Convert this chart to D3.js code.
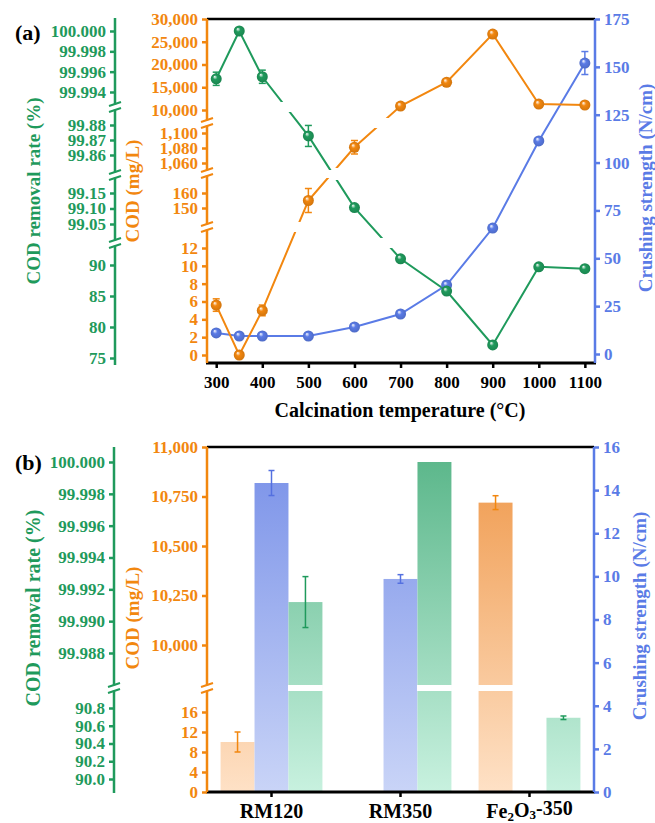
<!DOCTYPE html>
<html>
<head>
<meta charset="utf-8">
<title>COD removal and crushing strength</title>
<style>
    * { margin: 0; padding: 0; }
    body { background: #fff; }
    svg text { font-family: "Liberation Serif", "Times New Roman", "DejaVu Serif", serif; font-weight: bold; }
</style>
<script src="https://cdn.jsdelivr.net/npm/d3@7"></script>
</head>
<body>
<div id="root"></div>
<script>
// ---- panel (a) data ----
var temps = [300, 350, 400, 500, 600, 700, 800, 900, 1000, 1100];
var codA = [5.6, 0, 5.0, 155, 1081, 10870, 16100, 26700, 11300, 11100];
var codAErr = [0.7, 0, 0.6, 8, 9, 0, 0, 0, 0, 0];
var removalA = [99.9953, 100.000, 99.9955, 99.8727, 99.103, 91.0, 85.8, 77.1, 89.7, 89.4];
var removalAErr = [0.00065, 0, 0.00065, 0.007, 0, 0, 0, 0, 0, 0];
var strengthA = [11.0, 9.4, 9.4, 9.4, 14.1, 20.9, 36.0, 65.8, 111.3, 152.0];
var strengthAErr = [0, 0, 0, 0, 0, 0, 2, 0, 0, 6];
var tempTicks = [300, 400, 500, 600, 700, 800, 900, 1000, 1100];

// ---- panel (b) data ----
var samples = ["RM120", "RM350", "Fe2O3-350"];
var codB = [10, null, 10719];
var codBErr = [2, 0, 35];
var strengthB = [14.33, 9.88, null];
var strengthBErr = [0.58, 0.2, 0];
var removalB = [99.9912, 100.000, 90.69];
var removalBErr = [0.0016, 0, 0.02];

// ---- tick labels ----
var greenTicksA = [[99.994, 99.996, 99.998, 100.000], [99.86, 99.87, 99.88], [99.05, 99.10, 99.15], [75, 80, 85, 90]];
var orangeTicksA = [[10000, 15000, 20000, 25000, 30000], [1060, 1080, 1100], [150, 160], [0, 2, 4, 6, 8, 10, 12]];
var blueTicksA = [0, 25, 50, 75, 100, 125, 150, 175];
var greenTicksB = [[99.988, 99.990, 99.992, 99.994, 99.996, 99.998, 100.000], [90.0, 90.2, 90.4, 90.6, 90.8]];
var orangeTicksB = [[10000, 10250, 10500, 10750, 11000], [0, 4, 8, 12, 16]];
var blueTicksB = [0, 2, 4, 6, 8, 10, 12, 14, 16];

var GREEN = "#1f9a5c", ORANGE = "#f2870f", BLUE = "#5a7be6";
var FONT = '"Liberation Serif", "Times New Roman", "DejaVu Serif", serif';
var width = 655, height = 823;

var svg = d3.select("#root").append("svg").attr("width", width).attr("height", height);
var defs = svg.append("defs");

// markers look like little shiny balls
function ballGradient(id, c) {
    var g = defs.append("radialGradient").attr("id", id).attr("fx", "35%").attr("fy", "30%");
    g.append("stop").attr("offset", "0%").attr("stop-color", "#ffffff");
    g.append("stop").attr("offset", "40%").attr("stop-color", c);
    g.append("stop").attr("offset", "100%").attr("stop-color", d3.rgb(c).darker(0.4));
}
ballGradient("ball-green", GREEN);
ballGradient("ball-orange", ORANGE);
ballGradient("ball-blue", BLUE);

function barGradient(id, top, bottom, y1, y2) {
    var g = defs.append("linearGradient").attr("id", id).attr("gradientUnits", "userSpaceOnUse")
        .attr("x1", 0).attr("x2", 0).attr("y1", y1).attr("y2", y2);
    g.append("stop").attr("offset", "0%").attr("stop-color", top);
    g.append("stop").attr("offset", "100%").attr("stop-color", bottom);
}
barGradient("bar-green", "#58b588", "#c8f1df", 447, 792);
barGradient("bar-orange", "#ef9748", "#fee1c6", 447, 792);
barGradient("bar-blue", "#7890e8", "#c9d4f7", 447, 792);

// broken axis: list of segments, each a linear scale calibrated on two ticks
// and limited to its own pixel extent (top, bottom)
function brokenScale(parts) {
    var segs = parts.map(function (p) {
        var cal = d3.scaleLinear().domain([p.at[0], p.at[2]]).range([p.at[1], p.at[3]]);
        var lo = cal.invert(p.ext[1]), hi = cal.invert(p.ext[0]);
        return {
            scale: d3.scaleLinear().domain([lo, hi]).range([p.ext[1], p.ext[0]]),
            lo: lo, hi: hi, top: p.ext[0], bottom: p.ext[1], ticks: p.ticks, fmt: p.fmt
        };
    });
    function f(v) {
        var best = segs[0], dist = Infinity;
        segs.forEach(function (s) {
            var d = v < s.lo ? s.lo - v : (v > s.hi ? v - s.hi : 0);
            if (d < dist) { dist = d; best = s; }
        });
        return best.scale(v);
    }
    f.segs = segs;
    f.breaks = [];
    for (var i = 0; i < segs.length - 1; i++) f.breaks.push((segs[i].bottom + segs[i + 1].top) / 2);
    return f;
}

function drawAxis(x, sc, side, color, y1, y2) {
    var ax = svg.append("g").attr("transform", "translate(" + x + ",0)");
    ax.append("line").attr("y1", y1).attr("y2", y2).attr("stroke", color).attr("stroke-width", 2.5);
    sc.segs.forEach(function (s) {
        var a = (side === "left" ? d3.axisLeft(s.scale) : d3.axisRight(s.scale))
            .tickValues(s.ticks).tickFormat(d3.format(s.fmt)).tickSize(5).tickPadding(4);
        var g = ax.append("g").call(a);
        g.select(".domain").remove();
        g.selectAll(".tick line").attr("stroke", color).attr("stroke-width", 2.5);
        g.selectAll(".tick text").attr("fill", color).style("font-size", "17px")
            .style("font-family", FONT).style("font-weight", "bold");
    });
    sc.breaks.forEach(function (y) {
        ax.append("rect").attr("x", -4).attr("y", y - 2.5).attr("width", 8).attr("height", 5).attr("fill", "#fff");
        ax.append("line").attr("x1", -6).attr("y1", y - 1).attr("x2", 6).attr("y2", y - 5)
            .attr("stroke", color).attr("stroke-width", 2);
        ax.append("line").attr("x1", -6).attr("y1", y + 5).attr("x2", 6).attr("y2", y + 1)
            .attr("stroke", color).attr("stroke-width", 2);
    });
}

function axisTitle(text, x, y, color, size) {
    svg.append("text").attr("transform", "translate(" + x + "," + y + ") rotate(-90)")
        .attr("text-anchor", "middle").attr("dy", "0.35em")
        .attr("fill", color).style("font-size", size + "px").text(text);
}

function frame(x1, x2, top, bottom) {
    svg.append("line").attr("x1", x1).attr("x2", x2).attr("y1", top).attr("y2", top)
        .attr("stroke", "#000").attr("stroke-width", 2.5);
    svg.append("line").attr("x1", x1 - 1).attr("x2", x2 + 1).attr("y1", bottom).attr("y2", bottom)
        .attr("stroke", "#000").attr("stroke-width", 3);
}

function errBar(g, x, y1, y2, color, cap) {
    g.append("line").attr("x1", x).attr("x2", x).attr("y1", y1).attr("y2", y2).attr("stroke", color).attr("stroke-width", 1.5);
    g.append("line").attr("x1", x - cap).attr("x2", x + cap).attr("y1", y1).attr("y2", y1).attr("stroke", color).attr("stroke-width", 1.5);
    g.append("line").attr("x1", x - cap).attr("x2", x + cap).attr("y1", y2).attr("y2", y2).attr("stroke", color).attr("stroke-width", 1.5);
}

// ================= panel (a) =================
function renderA() {
    var left = 207, right = 595, top = 19, bottom = 363;
    var x = d3.scaleLinear().domain([280, 1122]).range([left, right]);

    var yGreen = brokenScale([
        { at: [99.994, 92, 100.000, 31], ext: [19, 105], ticks: greenTicksA[0], fmt: ".3f" },
        { at: [99.86, 155, 99.88, 125], ext: [109, 173], ticks: greenTicksA[1], fmt: ".2f" },
        { at: [99.05, 224, 99.15, 193], ext: [177, 241], ticks: greenTicksA[2], fmt: ".2f" },
        { at: [75, 358, 90, 265], ext: [245, 365], ticks: greenTicksA[3], fmt: "d" }
    ]);
    var yOrange = brokenScale([
        { at: [10000, 110, 30000, 19], ext: [19, 121], ticks: orangeTicksA[0], fmt: "," },
        { at: [1060, 163, 1100, 133], ext: [125, 171], ticks: orangeTicksA[1], fmt: "," },
        { at: [150, 208, 160, 193], ext: [175, 225], ticks: orangeTicksA[2], fmt: "d" },
        { at: [0, 355, 12, 248], ext: [229, 363], ticks: orangeTicksA[3], fmt: "d" }
    ]);
    var yBlue = brokenScale([
        { at: [0, 354, 175, 19], ext: [19, 363], ticks: blueTicksA, fmt: "d" }
    ]);

    frame(left, right, top, bottom);

    var xAxis = d3.axisBottom(x).tickValues(tempTicks).tickSize(5).tickPadding(8).tickFormat(d3.format("d"));
    var gx = svg.append("g").attr("transform", "translate(0," + bottom + ")").call(xAxis);
    gx.select(".domain").remove();
    gx.selectAll(".tick line").attr("stroke", "#000").attr("stroke-width", 2.5);
    gx.selectAll(".tick text").attr("fill", "#000").style("font-size", "17px")
        .style("font-family", FONT).style("font-weight", "bold");

    drawAxis(115, yGreen, "left", GREEN, 18, 365);
    drawAxis(left, yOrange, "left", ORANGE, top, bottom);
    drawAxis(right, yBlue, "right", BLUE, top, bottom);

    axisTitle("COD removal rate (%)", 33, 191, GREEN, 19);
    axisTitle("COD (mg/L)", 132, 191, ORANGE, 19);
    axisTitle("Crushing strength (N/cm)", 645, 188, BLUE, 19);

    svg.append("text").attr("x", 400).attr("y", 417).attr("text-anchor", "middle")
        .style("font-size", "20px").text("Calcination temperature (°C)");
    svg.append("text").attr("x", 15).attr("y", 40).style("font-size", "22px").text("(a)");

    var series = [
        { vals: strengthA, err: strengthAErr, y: yBlue, color: BLUE, ball: "ball-blue", id: "m-blue" },
        { vals: codA, err: codAErr, y: yOrange, color: ORANGE, ball: "ball-orange", id: "m-orange" },
        { vals: removalA, err: removalAErr, y: yGreen, color: GREEN, ball: "ball-green", id: "m-green" }
    ];

    series.forEach(function (s) {
        // gaps in the line where it passes the axis breaks
        var m = defs.append("mask").attr("id", s.id).attr("maskUnits", "userSpaceOnUse")
            .attr("x", 0).attr("y", 0).attr("width", width).attr("height", height);
        m.append("rect").attr("width", width).attr("height", height).attr("fill", "#fff");
        s.y.breaks.forEach(function (b) {
            m.append("rect").attr("x", left).attr("y", b - 5).attr("width", right - left).attr("height", 10).attr("fill", "#000");
        });
        var line = d3.line().x(function (d, i) { return x(temps[i]); }).y(function (d) { return s.y(d); });
        svg.append("path").datum(s.vals).attr("d", line).attr("fill", "none")
            .attr("stroke", s.color).attr("stroke-width", 2).attr("mask", "url(#" + s.id + ")");
    });

    series.forEach(function (s) {
        var g = svg.append("g");
        s.vals.forEach(function (v, i) {
            if (s.err[i] > 0) errBar(g, x(temps[i]), s.y(v + s.err[i]), s.y(v - s.err[i]), s.color, 3.5);
        });
        g.selectAll("circle").data(s.vals).enter().append("circle")
            .attr("cx", function (d, i) { return x(temps[i]); })
            .attr("cy", function (d) { return s.y(d); })
            .attr("r", 5.5).attr("fill", "url(#" + s.ball + ")");
    });
}

// ================= panel (b) =================
function renderB() {
    var left = 207, right = 594, top = 447, bottom = 792;
    var x = d3.scaleBand().domain(samples).range([left, right]);
    var sub = d3.scaleBand().domain(["cod", "strength", "removal"]).range([0, x.bandwidth()])
        .paddingInner(0).paddingOuter(0.4);

    var yGreen = brokenScale([
        { at: [99.988, 653, 100.000, 462], ext: [447, 685], ticks: greenTicksB[0], fmt: ".3f" },
        { at: [90.0, 779, 90.8, 708], ext: [691, 793], ticks: greenTicksB[1], fmt: ".1f" }
    ]);
    var yOrange = brokenScale([
        { at: [10000, 645, 11000, 447], ext: [447, 685], ticks: orangeTicksB[0], fmt: "," },
        { at: [0, 792, 16, 712], ext: [691, 792], ticks: orangeTicksB[1], fmt: "d" }
    ]);
    var yBlue = brokenScale([
        { at: [0, 792, 16, 447], ext: [447, 792], ticks: blueTicksB, fmt: "d" }
    ]);

    var series = [
        { key: "cod", vals: codB, err: codBErr, y: yOrange, fill: "url(#bar-orange)", color: ORANGE },
        { key: "strength", vals: strengthB, err: strengthBErr, y: yBlue, fill: "url(#bar-blue)", color: "#5470e0" },
        { key: "removal", vals: removalB, err: removalBErr, y: yGreen, fill: "url(#bar-green)", color: GREEN }
    ];

    var gb = svg.append("g");
    series.forEach(function (s) {
        samples.forEach(function (name, i) {
            var v = s.vals[i];
            if (v === null) return;
            var bx = x(name) + sub(s.key), bw = sub.bandwidth();
            var yt = s.y(v);
            gb.append("rect").attr("x", bx).attr("y", yt).attr("width", bw).attr("height", bottom - yt)
                .attr("fill", s.fill);
            s.y.breaks.forEach(function (b) {
                if (yt < b) gb.append("rect").attr("x", bx - 0.5).attr("y", b - 3).attr("width", bw + 1)
                    .attr("height", 6).attr("fill", "#fff");
            });
            if (s.err[i] > 0) errBar(gb, bx + bw / 2, s.y(v + s.err[i]), s.y(v - s.err[i]), s.color, 3);
        });
    });

    frame(left, right, top, bottom);

    var gx = svg.append("g").attr("transform", "translate(0," + bottom + ")")
        .call(d3.axisBottom(x).tickSize(5).tickPadding(7).tickSizeOuter(0));
    gx.select(".domain").remove();
    gx.selectAll(".tick line").attr("stroke", "#000").attr("stroke-width", 2.5);
    gx.selectAll(".tick text").attr("fill", "#000").style("font-size", "20px")
        .style("font-family", FONT).style("font-weight", "bold")
        .each(function (d) {
            if (d !== "Fe2O3-350") return;
            var t = d3.select(this).text("");
            t.append("tspan").text("Fe");
            t.append("tspan").attr("dy", "0.2em").style("font-size", "13px").text("2");
            t.append("tspan").attr("dy", "-0.2em").text("O");
            t.append("tspan").attr("dy", "0.2em").style("font-size", "13px").text("3");
            t.append("tspan").attr("dy", "-0.2em").text("-350");
        });

    drawAxis(114, yGreen, "left", GREEN, top, 793);
    drawAxis(left, yOrange, "left", ORANGE, top, bottom);
    drawAxis(right, yBlue, "right", BLUE, top, bottom);

    axisTitle("COD removal rate (%)", 33, 608, GREEN, 20);
    axisTitle("COD (mg/L)", 132, 618, ORANGE, 19);
    axisTitle("Crushing strength (N/cm)", 639, 616, BLUE, 19);
    svg.append("text").attr("x", 15).attr("y", 470).style("font-size", "22px").text("(b)");
}

renderA();
renderB();
</script>
</body>
</html>
